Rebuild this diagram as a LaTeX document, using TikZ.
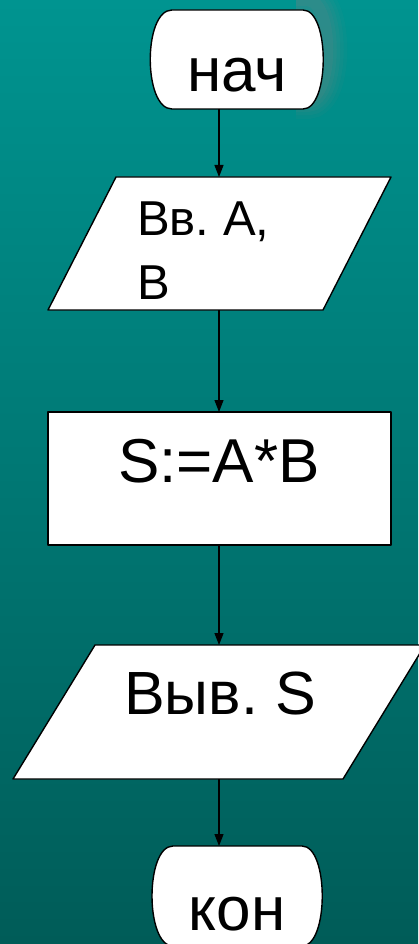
\documentclass[tikz,border=0pt]{standalone}
\usepackage{fontspec}
\setmainfont{Liberation Sans}
\usetikzlibrary{arrows.meta}
\definecolor{bgtop}{RGB}{0,148,144}
\definecolor{bgbot}{RGB}{0,92,88}
\definecolor{glowc}{RGB}{150,130,130}
\tikzset{
  box/.style={draw=black,fill=white,line width=1.4pt,line join=round},
  conn/.style={draw=black,line width=1.2pt,-{Triangle[length=12pt,width=9pt]}},
  lbl/.style={inner sep=0pt,anchor=base,text=black},
  lblw/.style={inner sep=0pt,anchor=base west,text=black}
}
\begin{document}
\frenchspacing
\begin{tikzpicture}[x=1pt,y=-1pt]
\shade[top color=bgtop,bottom color=bgbot] (0,0) rectangle (418,944);
\useasboundingbox (0,0) rectangle (418,944);
% soft glow behind start terminal (top right)
\begin{scope}
\clip (296,0) rectangle (418,120);
\foreach \w/\o in {40/0.05,33/0.06,26/0.07,19/0.08,12/0.1}{
  \draw[line width=\w pt,draw=glowc,opacity=\o,xshift=4pt,yshift=10pt]
    (172,10) -- (303,10) .. controls (330,10) and (330,109) .. (303,109)
    -- (172,109) .. controls (143,109) and (143,10) .. (172,10) -- cycle;
}
\end{scope}
% start terminal
\path[box] (172,10) -- (303,10) .. controls (330,10) and (330,109) .. (303,109)
  -- (172,109) .. controls (143,109) and (143,10) .. (172,10) -- cycle;
\node[lbl,font=\fontsize{62}{70}\selectfont] (start) at (237,92) {нач};
% input parallelogram
\path[box] (116,177) -- (391,177) -- (323,310) -- (48,310) -- cycle;
\node[lblw,font=\fontsize{49}{64}\selectfont] (in1) at (137,235) {Вв. А,};
\node[lblw,font=\fontsize{49}{64}\selectfont] (in2) at (137,299) {В};
% process rectangle
\path[box] (48,412) rectangle (391,545);
\node[lbl,font=\fontsize{62}{70}\selectfont] (proc) at (219,482) {S:=A*B};
% output parallelogram
\path[box] (95,645) -- (425,645) -- (343,779) -- (13,779) -- cycle;
\node[lbl,font=\fontsize{61}{70}\selectfont] (outp) at (220,714) {Выв. S};
% end terminal
\path[box] (173,846) -- (302,846) .. controls (329,846) and (329,946) .. (302,946)
  -- (173,946) .. controls (145,946) and (145,846) .. (173,846) -- cycle;
\node[lbl,font=\fontsize{62}{70}\selectfont] (fin) at (237,930) {кон};
% connection points
\coordinate (startB) at (219,109);
\coordinate (inT) at (219,177);
\coordinate (inB) at (219,310);
\coordinate (procT) at (219,412);
\coordinate (procB) at (219,545);
\coordinate (outT) at (219,645);
\coordinate (outB) at (219,779);
\coordinate (finT) at (219,846);
\draw[conn] (startB) -- (inT);
\draw[conn] (inB) -- (procT);
\draw[conn] (procB) -- (outT);
\draw[conn] (outB) -- (finT);
\end{tikzpicture}
\end{document}
